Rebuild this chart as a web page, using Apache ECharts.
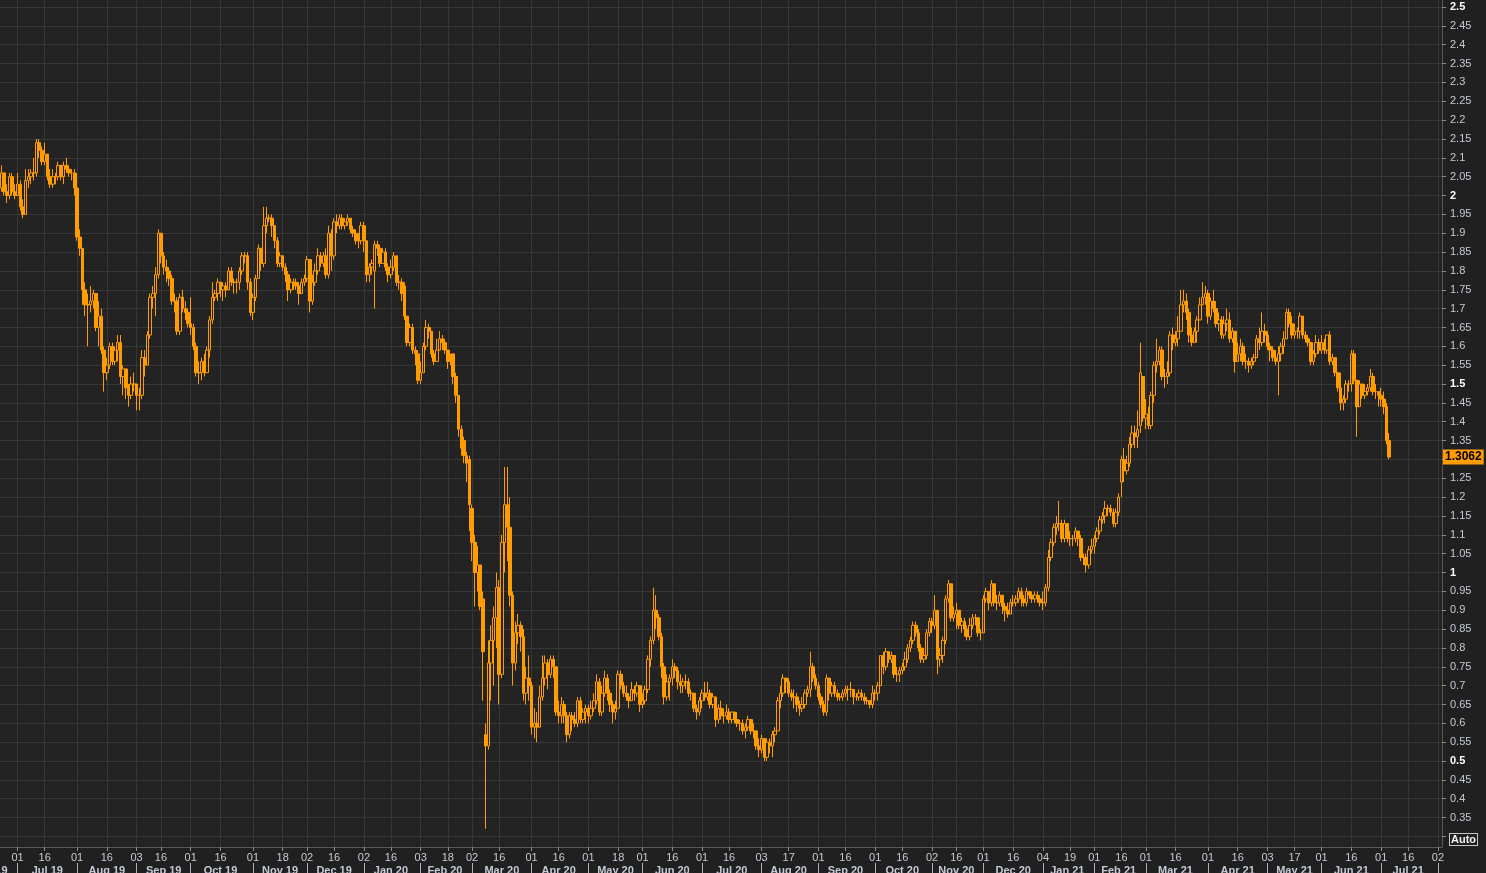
<!DOCTYPE html>
<html>
<head>
<meta charset="utf-8">
<script src="https://cdn.jsdelivr.net/npm/echarts/dist/echarts.min.js"></script>
<style>
html,body{margin:0;padding:0;background:#202020;}
#chart{width:1486px;height:873px;}
</style>
</head>
<body>
<div id="chart"></div>
<script>
// ---- calendar (trading days shown on the axis) ----
const firstDay = '2019-06-21';
const lastDay = '2021-08-03';
const holidays = ['2019-07-04','2019-09-02','2019-11-28','2019-12-25','2020-01-01','2020-01-20','2020-02-17',
  '2020-04-10','2020-05-25','2020-07-03','2020-09-07','2020-10-12','2020-11-11','2020-11-26','2020-12-25',
  '2021-01-01','2021-01-18','2021-02-15','2021-05-31','2021-07-05'];

// ---- tick labels ----
const dayTicks = ['2019-07-01','2019-07-16','2019-08-01','2019-08-16','2019-09-03','2019-09-16','2019-10-01','2019-10-16',
  '2019-11-01','2019-11-18','2019-12-02','2019-12-16','2020-01-02','2020-01-16','2020-02-03','2020-02-18','2020-03-02',
  '2020-03-16','2020-04-01','2020-04-16','2020-05-01','2020-05-18','2020-06-01','2020-06-16','2020-07-01','2020-07-16',
  '2020-08-03','2020-08-17','2020-09-01','2020-09-16','2020-10-01','2020-10-16','2020-11-02','2020-11-16','2020-12-01',
  '2020-12-16','2021-01-04','2021-01-19','2021-02-01','2021-02-16','2021-03-01','2021-03-16','2021-04-01','2021-04-16',
  '2021-05-03','2021-05-17','2021-06-01','2021-06-16','2021-07-01','2021-07-16','2021-08-02'];
const monthLabels = ['Jul 19','Aug 19','Sep 19','Oct 19','Nov 19','Dec 19','Jan 20','Feb 20','Mar 20','Apr 20','May 20',
  'Jun 20','Jul 20','Aug 20','Sep 20','Oct 20','Nov 20','Dec 20','Jan 21','Feb 21','Mar 21','Apr 21','May 21','Jun 21','Jul 21'];
const cutMonthLabel = 'Jun 19';
const yTicks = [0.3,0.35,0.4,0.45,0.5,0.55,0.6,0.65,0.7,0.75,0.8,0.85,0.9,0.95,1,1.05,1.1,1.15,1.2,1.25,1.3,1.35,1.4,1.45,
  1.5,1.55,1.6,1.65,1.7,1.75,1.8,1.85,1.9,1.95,2,2.05,2.1,2.15,2.2,2.25,2.3,2.35,2.4,2.45,2.5];
const yLabels = yTicks.filter(v => v >= 0.35);
const lastValue = 1.3062;

// ---- daily candles: [open, close, low, high] ----
const ohlc = [
// Jun 2019
[2.02,2.06,2.01,2.08],[2.06,2.01,2.00,2.06],[2.01,2.00,1.98,2.03],[2.00,2.05,1.99,2.06],[2.05,2.01,2.00,2.06],[2.01,2.00,1.99,2.03],
// Jul 2019
[2.00,2.03,2.00,2.06],[2.03,1.97,1.96,2.04],[1.97,1.95,1.94,1.99],[1.95,2.04,1.95,2.07],[2.04,2.05,2.02,2.07],[2.05,2.06,2.03,2.07],
[2.06,2.06,2.04,2.10],[2.06,2.14,2.05,2.15],[2.14,2.12,2.10,2.15],[2.12,2.09,2.08,2.13],[2.09,2.11,2.08,2.14],[2.11,2.05,2.04,2.11],
[2.05,2.03,2.02,2.07],[2.03,2.05,2.02,2.07],[2.05,2.05,2.03,2.06],[2.05,2.08,2.04,2.09],[2.08,2.05,2.04,2.08],[2.05,2.08,2.03,2.09],
[2.08,2.07,2.06,2.10],[2.07,2.06,2.05,2.08],[2.06,2.06,2.04,2.07],[2.06,2.02,2.00,2.07],
// Aug 2019
[2.02,1.89,1.88,2.06],[1.89,1.86,1.84,1.91],[1.86,1.75,1.71,1.86],[1.75,1.71,1.68,1.77],[1.71,1.71,1.60,1.74],[1.71,1.72,1.69,1.76],
[1.72,1.74,1.70,1.75],[1.74,1.65,1.64,1.74],[1.65,1.68,1.60,1.72],[1.68,1.59,1.58,1.70],[1.59,1.53,1.48,1.60],[1.53,1.55,1.51,1.57],
[1.55,1.60,1.54,1.61],[1.60,1.56,1.55,1.61],[1.56,1.59,1.55,1.60],[1.59,1.61,1.56,1.63],[1.61,1.52,1.50,1.63],[1.52,1.54,1.47,1.55],
[1.54,1.49,1.46,1.54],[1.49,1.47,1.44,1.50],[1.47,1.50,1.46,1.52],[1.50,1.50,1.48,1.53],
// Sep 2019
[1.50,1.47,1.43,1.50],[1.47,1.47,1.43,1.49],[1.47,1.57,1.46,1.59],[1.57,1.55,1.52,1.59],[1.55,1.63,1.55,1.64],[1.63,1.73,1.62,1.74],
[1.73,1.74,1.70,1.76],[1.74,1.79,1.68,1.81],[1.79,1.90,1.78,1.91],[1.90,1.84,1.82,1.90],[1.84,1.81,1.79,1.85],[1.81,1.80,1.77,1.83],
[1.80,1.78,1.76,1.81],[1.78,1.72,1.71,1.79],[1.72,1.72,1.69,1.74],[1.72,1.64,1.63,1.73],[1.64,1.73,1.63,1.74],[1.73,1.70,1.69,1.75],
[1.70,1.69,1.67,1.72],[1.69,1.66,1.65,1.70],
// Oct 2019
[1.66,1.65,1.63,1.73],[1.65,1.60,1.59,1.66],[1.60,1.53,1.52,1.61],[1.53,1.53,1.50,1.56],[1.53,1.56,1.51,1.57],[1.56,1.53,1.52,1.58],
[1.53,1.59,1.53,1.60],[1.59,1.67,1.57,1.68],[1.67,1.73,1.66,1.77],[1.73,1.74,1.72,1.75],[1.74,1.77,1.72,1.78],[1.77,1.75,1.73,1.77],
[1.75,1.76,1.72,1.77],[1.76,1.75,1.73,1.77],[1.75,1.80,1.75,1.81],[1.80,1.77,1.76,1.81],[1.77,1.77,1.74,1.78],[1.77,1.77,1.74,1.78],
[1.77,1.80,1.75,1.81],[1.80,1.84,1.79,1.85],[1.84,1.84,1.82,1.85],[1.84,1.77,1.75,1.85],[1.77,1.69,1.68,1.78],
// Nov 2019
[1.69,1.73,1.67,1.74],[1.73,1.78,1.72,1.79],[1.78,1.86,1.78,1.87],[1.86,1.82,1.80,1.86],[1.82,1.92,1.81,1.97],[1.92,1.94,1.90,1.97],
[1.94,1.94,1.93,1.95],[1.94,1.92,1.89,1.95],[1.92,1.88,1.86,1.92],[1.88,1.82,1.81,1.89],[1.82,1.84,1.81,1.85],[1.84,1.81,1.80,1.84],
[1.81,1.79,1.77,1.82],[1.79,1.75,1.72,1.80],[1.75,1.77,1.74,1.78],[1.77,1.77,1.75,1.78],[1.77,1.76,1.75,1.78],[1.76,1.74,1.71,1.77],
[1.74,1.77,1.74,1.78],[1.77,1.78,1.76,1.79],
// Dec 2019
[1.78,1.83,1.77,1.84],[1.83,1.72,1.69,1.83],[1.72,1.77,1.71,1.79],[1.77,1.80,1.76,1.82],[1.80,1.84,1.79,1.86],[1.84,1.82,1.81,1.85],
[1.82,1.84,1.81,1.85],[1.84,1.79,1.78,1.86],[1.79,1.90,1.78,1.92],[1.90,1.84,1.80,1.91],[1.84,1.93,1.83,1.94],[1.93,1.92,1.90,1.95],
[1.92,1.94,1.91,1.95],[1.94,1.92,1.91,1.95],[1.92,1.93,1.91,1.94],[1.93,1.94,1.92,1.95],[1.94,1.91,1.90,1.94],[1.91,1.90,1.89,1.92],
[1.90,1.88,1.87,1.91],[1.88,1.88,1.86,1.90],[1.88,1.92,1.87,1.93],
// Jan 2020
[1.92,1.88,1.85,1.93],[1.88,1.79,1.77,1.88],[1.79,1.81,1.77,1.82],[1.81,1.82,1.79,1.83],[1.80,1.87,1.70,1.88],[1.87,1.86,1.84,1.88],
[1.86,1.82,1.81,1.87],[1.82,1.85,1.82,1.86],[1.85,1.81,1.80,1.86],[1.81,1.79,1.77,1.82],[1.79,1.81,1.78,1.83],[1.81,1.84,1.80,1.85],
[1.84,1.77,1.76,1.84],[1.77,1.77,1.75,1.79],[1.77,1.74,1.72,1.78],[1.76,1.68,1.67,1.77],[1.68,1.61,1.60,1.66],[1.61,1.65,1.60,1.66],
[1.65,1.59,1.58,1.66],[1.59,1.58,1.55,1.60],[1.58,1.51,1.50,1.59],
// Feb 2020
[1.51,1.53,1.50,1.56],[1.53,1.60,1.53,1.61],[1.60,1.65,1.59,1.67],[1.65,1.64,1.62,1.66],[1.64,1.58,1.57,1.64],[1.58,1.56,1.55,1.59],
[1.56,1.59,1.56,1.62],[1.59,1.62,1.59,1.64],[1.62,1.61,1.59,1.63],[1.61,1.59,1.58,1.62],[1.59,1.56,1.54,1.59],[1.56,1.56,1.55,1.58],
[1.58,1.52,1.50,1.58],[1.52,1.47,1.45,1.53],[1.47,1.38,1.36,1.47],[1.38,1.33,1.31,1.39],[1.35,1.31,1.29,1.36],[1.31,1.29,1.24,1.32],
[1.30,1.18,1.11,1.31],
// Mar 2020
[1.17,1.08,1.03,1.18],[1.08,1.00,0.91,1.10],[1.00,1.02,0.95,1.07],[1.02,0.91,0.90,1.02],[0.93,0.79,0.66,0.95],[0.57,0.54,0.32,0.60],
[0.54,0.76,0.53,0.82],[0.76,0.82,0.66,0.86],[0.82,0.88,0.70,0.91],[0.88,0.96,0.80,1.00],[0.96,0.73,0.65,0.98],[0.73,1.08,0.72,1.10],
[1.08,1.18,1.00,1.28],[1.18,1.12,1.03,1.28],[1.12,0.94,0.91,1.20],[0.94,0.76,0.70,0.95],[0.76,0.84,0.74,0.87],[0.84,0.86,0.81,0.89],
[0.86,0.83,0.79,0.87],[0.83,0.68,0.66,0.85],[0.68,0.72,0.65,0.75],[0.72,0.70,0.66,0.78],
// Apr 2020
[0.70,0.59,0.57,0.71],[0.59,0.60,0.56,0.64],[0.60,0.59,0.55,0.63],[0.59,0.67,0.59,0.70],[0.67,0.72,0.66,0.78],[0.72,0.76,0.70,0.78],
[0.76,0.73,0.69,0.77],[0.73,0.77,0.72,0.78],[0.77,0.75,0.72,0.78],[0.75,0.63,0.62,0.75],[0.63,0.62,0.60,0.66],[0.62,0.65,0.60,0.67],
[0.65,0.62,0.60,0.66],[0.62,0.57,0.55,0.63],[0.57,0.62,0.56,0.63],[0.62,0.61,0.58,0.63],[0.61,0.60,0.59,0.63],[0.60,0.66,0.59,0.67],
[0.66,0.61,0.60,0.67],[0.61,0.63,0.60,0.64],[0.63,0.64,0.60,0.65],
// May 2020
[0.64,0.62,0.60,0.65],[0.62,0.64,0.61,0.66],[0.64,0.66,0.63,0.68],[0.66,0.71,0.65,0.73],[0.71,0.63,0.62,0.72],[0.63,0.68,0.62,0.70],
[0.68,0.72,0.67,0.74],[0.72,0.68,0.66,0.73],[0.68,0.65,0.63,0.69],[0.65,0.63,0.60,0.66],[0.63,0.64,0.61,0.66],[0.64,0.73,0.64,0.74],
[0.73,0.70,0.69,0.74],[0.70,0.68,0.67,0.71],[0.68,0.67,0.66,0.70],[0.67,0.66,0.64,0.68],[0.66,0.69,0.66,0.71],[0.69,0.68,0.66,0.70],
[0.68,0.70,0.67,0.71],[0.70,0.65,0.63,0.70],
// Jun 2020
[0.65,0.66,0.64,0.68],[0.66,0.69,0.65,0.70],[0.69,0.77,0.68,0.78],[0.77,0.82,0.75,0.83],[0.82,0.90,0.81,0.96],[0.90,0.88,0.85,0.94],
[0.88,0.83,0.82,0.89],[0.83,0.75,0.72,0.84],[0.75,0.67,0.65,0.76],[0.67,0.71,0.66,0.73],[0.71,0.72,0.66,0.73],[0.72,0.75,0.70,0.77],
[0.75,0.74,0.72,0.76],[0.74,0.71,0.69,0.75],[0.71,0.70,0.68,0.73],[0.70,0.71,0.68,0.72],[0.71,0.71,0.69,0.73],[0.71,0.68,0.67,0.72],
[0.68,0.68,0.66,0.69],[0.68,0.64,0.63,0.68],[0.64,0.63,0.61,0.65],[0.63,0.66,0.62,0.67],
// Jul 2020
[0.66,0.68,0.64,0.69],[0.68,0.67,0.66,0.71],[0.67,0.68,0.66,0.71],[0.68,0.65,0.64,0.69],[0.65,0.67,0.64,0.68],[0.67,0.61,0.59,0.67],
[0.61,0.64,0.60,0.65],[0.64,0.62,0.61,0.66],[0.62,0.62,0.60,0.64],[0.62,0.63,0.61,0.65],[0.63,0.61,0.60,0.64],[0.61,0.63,0.60,0.63],
[0.63,0.61,0.60,0.63],[0.61,0.60,0.59,0.63],[0.60,0.60,0.58,0.61],[0.60,0.58,0.57,0.61],[0.58,0.59,0.56,0.60],[0.59,0.61,0.58,0.62],
[0.61,0.58,0.57,0.61],[0.58,0.58,0.56,0.60],[0.58,0.54,0.53,0.58],[0.54,0.53,0.51,0.56],
// Aug 2020
[0.53,0.56,0.52,0.57],[0.56,0.51,0.50,0.56],[0.51,0.55,0.50,0.56],[0.55,0.54,0.52,0.56],[0.54,0.57,0.51,0.58],[0.57,0.58,0.55,0.59],
[0.58,0.66,0.58,0.67],[0.66,0.68,0.64,0.70],[0.68,0.72,0.67,0.73],[0.72,0.71,0.68,0.72],[0.71,0.68,0.67,0.72],[0.68,0.67,0.66,0.69],
[0.67,0.67,0.64,0.69],[0.67,0.65,0.63,0.68],[0.65,0.64,0.62,0.66],[0.64,0.65,0.63,0.67],[0.65,0.68,0.64,0.69],[0.68,0.69,0.67,0.70],
[0.69,0.75,0.67,0.79],[0.75,0.72,0.71,0.76],[0.72,0.70,0.69,0.73],
// Sep 2020
[0.70,0.67,0.66,0.71],[0.67,0.65,0.64,0.68],[0.65,0.63,0.62,0.66],[0.63,0.72,0.62,0.73],[0.72,0.68,0.66,0.72],[0.68,0.70,0.67,0.71],
[0.70,0.68,0.67,0.71],[0.68,0.67,0.66,0.69],[0.67,0.67,0.66,0.68],[0.67,0.68,0.66,0.69],[0.68,0.69,0.67,0.70],[0.69,0.69,0.66,0.70],
[0.69,0.69,0.67,0.71],[0.69,0.67,0.65,0.69],[0.67,0.67,0.66,0.68],[0.67,0.68,0.66,0.69],[0.68,0.67,0.66,0.69],[0.67,0.66,0.65,0.68],
[0.66,0.66,0.65,0.67],[0.66,0.65,0.64,0.66],[0.65,0.68,0.64,0.70],
// Oct 2020
[0.68,0.68,0.66,0.69],[0.68,0.70,0.66,0.71],[0.70,0.78,0.70,0.78],[0.78,0.75,0.73,0.79],[0.75,0.79,0.74,0.80],[0.79,0.77,0.76,0.79],
[0.77,0.78,0.76,0.79],[0.78,0.73,0.72,0.78],[0.73,0.73,0.71,0.75],[0.73,0.74,0.71,0.75],[0.74,0.75,0.73,0.76],
[0.75,0.77,0.74,0.79],[0.77,0.80,0.76,0.81],[0.80,0.82,0.79,0.83],[0.82,0.86,0.81,0.87],[0.86,0.84,0.83,0.87],[0.84,0.80,0.79,0.85],
[0.80,0.77,0.76,0.81],[0.77,0.78,0.76,0.80],[0.78,0.84,0.77,0.85],[0.84,0.87,0.83,0.88],
// Nov 2020
[0.87,0.86,0.84,0.88],[0.86,0.90,0.85,0.94],[0.90,0.77,0.73,0.90],[0.77,0.78,0.75,0.80],[0.78,0.82,0.76,0.83],[0.82,0.93,0.81,0.94],
[0.93,0.97,0.92,0.98],[0.97,0.88,0.87,0.97],[0.88,0.89,0.87,0.91],[0.89,0.90,0.85,0.92],[0.90,0.86,0.85,0.90],
[0.86,0.87,0.84,0.88],[0.87,0.85,0.83,0.88],[0.85,0.83,0.82,0.86],[0.83,0.86,0.82,0.88],[0.86,0.88,0.85,0.89],[0.88,0.88,0.86,0.89],
[0.88,0.84,0.83,0.88],[0.84,0.84,0.82,0.85],
// Dec 2020
[0.84,0.93,0.84,0.94],[0.93,0.95,0.92,0.96],[0.95,0.92,0.90,0.95],[0.92,0.97,0.91,0.98],[0.97,0.92,0.91,0.97],[0.92,0.92,0.90,0.94],
[0.92,0.94,0.91,0.95],[0.94,0.91,0.89,0.94],[0.91,0.90,0.87,0.92],[0.90,0.89,0.88,0.92],[0.89,0.92,0.89,0.93],[0.92,0.92,0.91,0.94],
[0.92,0.93,0.91,0.94],[0.93,0.95,0.92,0.96],[0.95,0.93,0.91,0.96],[0.93,0.92,0.91,0.94],[0.92,0.95,0.91,0.96],[0.95,0.94,0.93,0.95],
[0.94,0.93,0.92,0.95],[0.93,0.94,0.92,0.95],[0.94,0.93,0.92,0.95],[0.93,0.92,0.91,0.94],
// Jan 2021
[0.92,0.92,0.90,0.95],[0.92,0.96,0.91,0.97],[0.96,1.04,0.95,1.06],[1.04,1.08,1.03,1.09],[1.08,1.12,1.07,1.13],[1.12,1.13,1.10,1.15],
[1.13,1.13,1.11,1.19],[1.13,1.09,1.08,1.14],[1.09,1.13,1.08,1.14],[1.13,1.09,1.08,1.13],[1.09,1.09,1.07,1.11],[1.09,1.09,1.07,1.10],
[1.09,1.11,1.08,1.12],[1.11,1.09,1.07,1.11],[1.09,1.04,1.03,1.10],[1.04,1.04,1.02,1.05],[1.04,1.02,1.00,1.05],[1.02,1.06,1.01,1.07],
[1.06,1.07,1.05,1.09],
// Feb 2021
[1.07,1.09,1.05,1.10],[1.09,1.11,1.08,1.12],[1.11,1.14,1.10,1.15],[1.14,1.15,1.13,1.16],[1.15,1.17,1.13,1.19],[1.17,1.17,1.15,1.18],
[1.17,1.16,1.15,1.18],[1.16,1.13,1.12,1.17],[1.13,1.16,1.12,1.17],[1.16,1.20,1.15,1.21],[1.24,1.30,1.20,1.31],[1.30,1.27,1.24,1.33],
[1.27,1.29,1.26,1.31],[1.29,1.34,1.28,1.36],[1.34,1.37,1.33,1.39],[1.37,1.36,1.33,1.39],[1.36,1.38,1.33,1.43],[1.39,1.53,1.37,1.61],
[1.52,1.41,1.40,1.52],
// Mar 2021
[1.41,1.42,1.38,1.46],[1.42,1.39,1.38,1.44],[1.39,1.47,1.38,1.48],[1.47,1.55,1.45,1.56],[1.55,1.56,1.53,1.62],[1.56,1.59,1.55,1.60],
[1.59,1.52,1.51,1.60],[1.52,1.52,1.49,1.54],[1.52,1.53,1.50,1.56],[1.53,1.63,1.52,1.64],[1.63,1.61,1.59,1.65],[1.61,1.62,1.60,1.64],
[1.62,1.64,1.60,1.68],[1.64,1.71,1.64,1.75],[1.71,1.72,1.69,1.75],[1.72,1.69,1.67,1.74],[1.69,1.63,1.61,1.70],[1.63,1.61,1.60,1.65],
[1.61,1.64,1.61,1.65],[1.64,1.67,1.61,1.68],[1.67,1.71,1.67,1.73],[1.71,1.73,1.71,1.77],[1.73,1.74,1.71,1.76],
// Apr 2021
[1.74,1.68,1.66,1.75],[1.68,1.72,1.67,1.73],[1.72,1.70,1.69,1.75],[1.70,1.66,1.65,1.72],[1.66,1.67,1.64,1.69],[1.67,1.63,1.62,1.68],
[1.63,1.66,1.62,1.68],[1.66,1.67,1.64,1.70],[1.67,1.62,1.61,1.69],[1.62,1.64,1.61,1.65],[1.64,1.56,1.53,1.64],[1.56,1.58,1.56,1.61],
[1.58,1.60,1.56,1.62],[1.60,1.56,1.55,1.61],[1.56,1.56,1.54,1.58],[1.56,1.55,1.53,1.57],[1.55,1.56,1.54,1.57],[1.56,1.57,1.55,1.58],
[1.57,1.62,1.57,1.63],[1.62,1.61,1.59,1.65],[1.61,1.64,1.60,1.69],[1.64,1.63,1.61,1.66],
// May 2021
[1.63,1.60,1.59,1.64],[1.60,1.59,1.56,1.61],[1.59,1.57,1.56,1.60],[1.57,1.56,1.55,1.59],[1.56,1.58,1.47,1.60],[1.58,1.60,1.56,1.61],
[1.60,1.62,1.58,1.64],[1.62,1.69,1.62,1.70],[1.69,1.66,1.65,1.70],[1.66,1.63,1.62,1.68],[1.63,1.64,1.62,1.66],[1.64,1.64,1.62,1.65],
[1.64,1.68,1.62,1.69],[1.68,1.63,1.62,1.68],[1.63,1.62,1.61,1.64],[1.62,1.61,1.60,1.63],[1.61,1.56,1.55,1.61],[1.56,1.58,1.55,1.59],
[1.58,1.61,1.57,1.63],[1.61,1.59,1.58,1.62],
// Jun 2021
[1.59,1.61,1.58,1.63],[1.61,1.59,1.58,1.62],[1.59,1.63,1.58,1.63],[1.63,1.56,1.55,1.64],[1.56,1.57,1.55,1.58],[1.57,1.53,1.52,1.57],
[1.53,1.49,1.48,1.53],[1.49,1.45,1.43,1.53],[1.45,1.46,1.43,1.47],[1.46,1.50,1.45,1.51],[1.50,1.50,1.48,1.51],[1.50,1.58,1.48,1.59],
[1.58,1.51,1.50,1.59],[1.51,1.44,1.36,1.51],[1.44,1.50,1.44,1.51],[1.50,1.47,1.46,1.50],[1.47,1.48,1.46,1.50],[1.48,1.49,1.47,1.50],
[1.49,1.52,1.48,1.54],[1.52,1.48,1.47,1.53],[1.48,1.48,1.46,1.50],[1.48,1.47,1.44,1.48],
// Jul 2021
[1.47,1.46,1.44,1.49],[1.46,1.44,1.42,1.48],[1.44,1.35,1.34,1.45],[1.35,1.3062,1.30,1.37]
];

// ---- build category list of trading days ----
const categories = [];
(function () {
  const hs = new Set(holidays);
  let t = Date.parse(firstDay + 'T00:00:00Z');
  const end = Date.parse(lastDay + 'T00:00:00Z');
  while (t <= end) {
    const d = new Date(t);
    const wd = d.getUTCDay();
    const s = d.toISOString().slice(0, 10);
    if (wd !== 0 && wd !== 6 && !hs.has(s)) categories.push(s);
    t += 86400000;
  }
})();

const dayIdx = new Set(dayTicks.map(d => categories.indexOf(d)));
const monthStarts = [];
for (let i = 1; i < categories.length; i++) {
  if (categories[i].slice(0, 7) !== categories[i - 1].slice(0, 7)) monthStarts.push(i);
}
const monthStartSet = new Set(monthStarts);
const midLabel = {};
monthLabels.forEach((lab, k) => {
  if (k + 1 < monthStarts.length) midLabel[Math.floor((monthStarts[k] + monthStarts[k + 1]) / 2)] = lab;
});

const ORANGE = '#ff9c00';
const GRID_LINE = '#373737';
const TXT = '#c4cbd6';
const FONT = 'Liberation Sans, Arial, sans-serif';

const chart = echarts.init(document.getElementById('chart'), null, {renderer: 'canvas'});
chart.setOption({
  animation: false,
  backgroundColor: '#202020',
  grid: [{
    left: 0, right: 44, top: 0, bottom: 26,
    show: true, backgroundColor: '#232323', borderWidth: 0,
    containLabel: false, outerBoundsMode: 'none'
  }],
  xAxis: [{
    type: 'category', gridIndex: 0, data: categories, position: 'bottom', boundaryGap: true,
    axisLine: {show: true, lineStyle: {color: '#595959', width: 1}},
    axisTick: {show: true, alignWithLabel: true, length: 4, interval: (i) => dayIdx.has(i),
      lineStyle: {color: '#8c8c8c'}},
    axisLabel: {show: true, interval: (i) => dayIdx.has(i), formatter: (v) => v.slice(8),
      margin: 5, color: TXT, fontSize: 11, fontFamily: FONT},
    splitLine: {show: true, interval: (i) => dayIdx.has(i), alignWithLabel: true,
      lineStyle: {color: GRID_LINE, width: 1}}
  }, {
    type: 'category', gridIndex: 0, data: categories, position: 'bottom', offset: 16, boundaryGap: true,
    axisLine: {show: false},
    axisTick: {show: true, alignWithLabel: true, length: 10, interval: (i) => monthStartSet.has(i),
      lineStyle: {color: '#a9b2be'}},
    axisLabel: {show: true, interval: (i) => midLabel[i] !== undefined,
      formatter: (v, i) => midLabel[i] || '', margin: 2, color: TXT, fontSize: 11,
      fontWeight: 'bold', fontFamily: FONT},
    splitLine: {show: false}
  }],
  yAxis: [{
    type: 'value', gridIndex: 0, position: 'right', min: 0.272, max: 2.5186,
    axisLine: {show: true, lineStyle: {color: '#595959', width: 1}},
    axisTick: {show: true, length: 4, customValues: yTicks, lineStyle: {color: '#8c8c8c'}},
    axisLabel: {
      show: true, customValues: yLabels, margin: 8, color: TXT, fontSize: 11, fontFamily: FONT,
      formatter: (v) => {
        const s = String(+(+v).toFixed(2));
        const half = Math.abs(v * 2 - Math.round(v * 2)) < 1e-6;
        return half ? '{b|' + s + '}' : s;
      },
      rich: {b: {fontWeight: 'bold', color: '#ffffff', fontSize: 11, fontFamily: FONT}}
    },
    splitLine: {show: true, lineStyle: {color: GRID_LINE, width: 1}}
  }],
  series: [{
    type: 'candlestick', xAxisIndex: 0, yAxisIndex: 0, data: ohlc, barWidth: 3,
    itemStyle: {color: 'transparent', color0: ORANGE, borderColor: ORANGE, borderColor0: ORANGE, borderWidth: 1},
    markLine: {
      silent: true, symbol: ['none', 'none'], animation: false, precision: 4,
      data: [{yAxis: lastValue}],
      lineStyle: {color: 'rgba(0,0,0,0)', width: 1, type: 'solid'},
      label: {show: true, position: 'end', distance: 1, formatter: String(lastValue),
        backgroundColor: ORANGE, color: '#000000', fontWeight: 'bold', fontSize: 12,
        fontFamily: FONT, padding: [2, 2, 1, 2]}
    }
  }],
  graphic: [{
    type: 'text', x: 7.5, y: 865,
    style: {text: cutMonthLabel, align: 'right', verticalAlign: 'top', fill: TXT,
      font: 'bold 11px ' + FONT}
  }, {
    type: 'text', x: 1450, y: 834,
    style: {text: 'Auto', fill: '#f0f0f0', font: 'bold 11px ' + FONT,
      borderColor: '#c8c8c8', borderWidth: 1, padding: [0, 1, 0, 1], backgroundColor: '#202020'}
  }]
});
</script>
</body>
</html>
